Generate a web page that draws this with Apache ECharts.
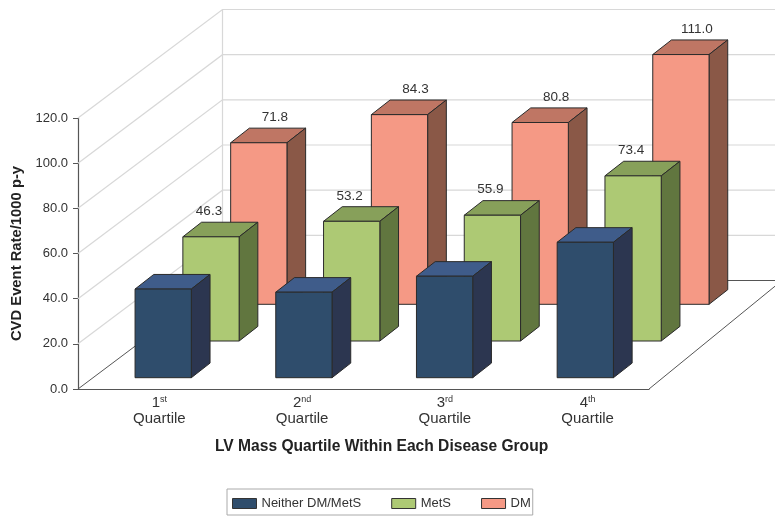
<!DOCTYPE html>
<html>
<head>
<meta charset="utf-8">
<style>
html, body { margin: 0; padding: 0; background: #fff; }
#container { width: 775px; height: 516px; }
</style>
<script src="https://cdn.jsdelivr.net/npm/echarts@6/dist/echarts.min.js"></script>
</head>
<body>
<div id="container"></div>
<script>
var categories = ['1st', '2nd', '3rd', '4th'];
var seriesNames = ['Neither DM/MetS', 'MetS', 'DM'];
var neitherValues = [39.4, 38.0, 45.1, 60.2];
var metsValues = [46.3, 53.2, 55.9, 73.4];
var dmValues = [71.8, 84.3, 80.8, 111.0];
var yTicks = [0, 20, 40, 60, 80, 100, 120];

var FONT = '"Liberation Sans", Arial, sans-serif';
var WALL = [144.5, -108.5];     // front floor edge to back wall
var RIGHT_WALL = [133, -108.5]; // right floor edge leans a little steeper
var ROW_STEP = [47.8, -36.7];
var BAR_DEPTH = [18.7, -14.6];

function line(points, color, width) {
    return {
        type: 'polyline',
        shape: { points: points },
        style: { fill: null, stroke: color, lineWidth: width }
    };
}

function renderWall(params, api) {
    var tick = api.value(1);
    var rect = params.coordSys;
    var y = api.coord([0, tick])[1];
    var backX = rect.x + WALL[0];
    var backY = y + WALL[1];
    var color = tick === 0 ? '#555' : '#d8d8d8';
    var children = [line([[rect.x, y], [backX, backY], [api.getWidth(), backY]], color, tick === 0 ? 1 : 1.2)];
    if (tick === 0) {
        var right = rect.x + rect.width;
        children.push(line([[right, y], [right + RIGHT_WALL[0], y + RIGHT_WALL[1]]], '#555', 1));
    }
    if (tick === yTicks[yTicks.length - 1]) {
        children.push(line([[backX, backY], [backX, api.coord([0, 0])[1] + WALL[1]]], '#d8d8d8', 1.2));
    }
    return { type: 'group', children: children };
}

// labelShift is null for the row that has no value labels
function barRenderer(row, colors, labelShift) {
    return function (params, api) {
        var top = api.coord([api.value(0), api.value(1)]);
        var base = api.coord([api.value(0), 0]);
        var w = api.size([1, 0])[0] * 0.4;
        var l = top[0] - w / 2 + row * ROW_STEP[0];
        var r = l + w;
        var t = top[1] + row * ROW_STEP[1];
        var b = base[1] + row * ROW_STEP[1];
        var dx = BAR_DEPTH[0];
        var dy = BAR_DEPTH[1];
        function face(points, fill) {
            return {
                type: 'polygon',
                shape: { points: points },
                style: { fill: fill, stroke: '#2a2a2a', lineWidth: 1, lineJoin: 'round' }
            };
        }
        var children = [
            face([[l, t], [r, t], [r + dx, t + dy], [l + dx, t + dy]], colors.top),
            face([[r, t], [r + dx, t + dy], [r + dx, b + dy], [r, b]], colors.side),
            face([[l, t], [r, t], [r, b], [l, b]], colors.front)
        ];
        if (labelShift !== null) {
            children.push({
                type: 'text',
                style: {
                    x: (l + r) / 2 + labelShift,
                    y: t - 25.5,
                    text: api.value(1).toFixed(1),
                    fontSize: 13.5,
                    fontFamily: FONT,
                    fill: '#333',
                    align: 'center',
                    verticalAlign: 'middle'
                }
            });
        }
        return { type: 'group', children: children };
    };
}

function barSeries(name, values, row, colors, labelShift) {
    return {
        name: name,
        type: 'custom',
        xAxisIndex: 1,
        yAxisIndex: 1,
        z: 5 - row,
        itemStyle: { color: colors.front },
        renderItem: barRenderer(row, colors, labelShift),
        data: values.map(function (v, i) { return [i, v]; })
    };
}

var myChart = echarts.init(document.getElementById('container'));

myChart.setOption({
    animation: false,
    backgroundColor: '#fff',
    textStyle: { fontFamily: FONT },
    title: {
        text: 'LV Mass Quartile Within Each Disease Group',
        left: 215,
        top: 439,
        padding: 0,
        textStyle: { fontSize: 15.6, fontWeight: 'bold', fontFamily: FONT, color: '#222' }
    },
    legend: {
        data: seriesNames,
        left: 227,
        top: 489,
        padding: [8, 2, 5, 5],
        itemGap: 30,
        itemWidth: 24,
        itemHeight: 10,
        icon: 'rect',
        borderColor: '#aaa',
        borderWidth: 1,
        selectedMode: false,
        itemStyle: { borderColor: '#333', borderWidth: 1 },
        textStyle: { fontSize: 13, fontFamily: FONT, color: '#333' }
    },
    grid: [
        { left: 78, top: 118, width: 571, height: 271 },
        { left: 92.85, top: 107.7, width: 562.8, height: 270 }
    ],
    xAxis: [
        {
            type: 'category',
            gridIndex: 0,
            data: categories,
            axisLine: { lineStyle: { color: '#555', width: 1.2 } },
            axisTick: { show: false },
            axisLabel: {
                margin: 6,
                padding: [0, 0, 0, 20],
                formatter: function (v) {
                    return '{n|' + v.charAt(0) + '}{s|' + v.slice(1) + '}\n{q|Quartile}';
                },
                rich: {
                    n: { fontSize: 15, fontFamily: FONT, color: '#333', lineHeight: 16 },
                    s: { fontSize: 9, fontFamily: FONT, color: '#333', verticalAlign: 'top', lineHeight: 16 },
                    q: { fontSize: 15, fontFamily: FONT, color: '#333', lineHeight: 16 }
                }
            }
        },
        { type: 'category', gridIndex: 1, data: categories, show: false }
    ],
    yAxis: [
        {
            type: 'value',
            gridIndex: 0,
            min: 0,
            max: 120,
            interval: 20,
            name: 'CVD Event Rate/1000 p-y',
            nameLocation: 'middle',
            nameGap: 46,
            nameTextStyle: { fontSize: 14.8, fontWeight: 'bold', fontFamily: FONT, color: '#222' },
            axisLine: { show: true, lineStyle: { color: '#555', width: 1.2 } },
            axisTick: { show: true, length: 5, lineStyle: { color: '#555' } },
            axisLabel: {
                margin: 10,
                fontSize: 13,
                fontFamily: FONT,
                color: '#333',
                formatter: function (v) { return v.toFixed(1); }
            },
            splitLine: { show: false }
        },
        { type: 'value', gridIndex: 1, min: 0, max: 120, interval: 20, show: false }
    ],
    series: [
        {
            type: 'custom',
            xAxisIndex: 0,
            yAxisIndex: 0,
            z: 1,
            silent: true,
            renderItem: renderWall,
            data: yTicks.map(function (t) { return [0, t]; })
        },
        barSeries(seriesNames[0], neitherValues, 0, { front: '#2f4d6c', top: '#3f5c8a', side: '#2c3650' }, null),
        barSeries(seriesNames[1], metsValues, 1, { front: '#adc974', top: '#87a05a', side: '#61763f' }, -2),
        barSeries(seriesNames[2], dmValues, 2, { front: '#f59985', top: '#bf7664', side: '#8a5847' }, 16)
    ]
});
</script>
</body>
</html>
